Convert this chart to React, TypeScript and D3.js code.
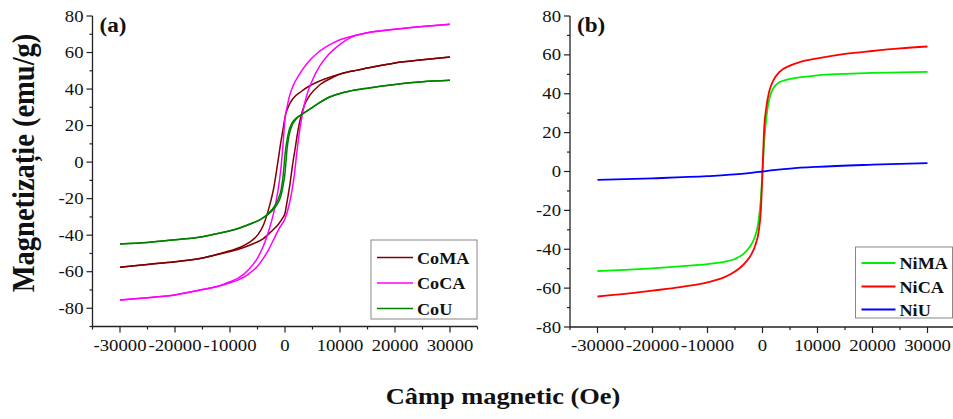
import React from "react";
import * as d3 from "d3";

type Pt = [number, number];

// Field ticks (Oe) and magnetization ticks (emu/g)
const fieldTicks = [-30000, -20000, -10000, 0, 10000, 20000, 30000];
const fieldMinor = [-35000, -25000, -15000, -5000, 5000, 15000, 25000, 35000];
const magTicksA = [-80, -60, -40, -20, 0, 20, 40, 60, 80];
const magMinorA = [-90, -70, -50, -30, -10, 10, 30, 50, 70];
const magTicksB = [-80, -60, -40, -20, 0, 20, 40, 60, 80];
const magMinorB = [-70, -50, -30, -10, 10, 30, 50, 70];

// Panel (a): cobalt samples, hysteresis loops (descending / ascending branches)
const coMADown: Pt[] = [
  [30000, 57.5], [25000, 56], [20000, 54.3], [15000, 51.5], [12000, 49.7], [10000, 48.2],
  [8000, 46.3], [6000, 44], [4500, 41.8], [3000, 38.8], [1500, 35], [700, 31], [200, 27],
  [0, 24.5], [-300, 19], [-700, 12], [-1300, 0], [-2100, -15], [-3000, -26], [-4000, -35],
  [-5000, -40], [-6500, -44], [-8000, -46.5], [-10000, -48.5], [-12000, -50.2],
  [-15000, -52.5], [-20000, -54.5], [-25000, -56], [-30000, -57.5],
];
const coMAUp: Pt[] = [
  [-30000, -57.5], [-25000, -56], [-20000, -54.5], [-15000, -52.5], [-12000, -50.4],
  [-10000, -48.9], [-8000, -47.3], [-6000, -45], [-4000, -42], [-2500, -38], [-1200, -34],
  [-500, -31], [0, -28], [300, -23], [900, -12], [1450, 0], [1800, 6.5], [2400, 18],
  [2900, 25], [3500, 31], [4500, 36.5], [6400, 42.5], [8800, 46.5], [10000, 48.2],
  [12000, 49.7], [15000, 51.5], [20000, 54.3], [25000, 56], [30000, 57.5],
];
const coCADown: Pt[] = [
  [30000, 75.5], [25000, 74.2], [20000, 72.7], [15000, 70.8], [12000, 68.8], [10000, 67],
  [8000, 64], [6000, 60], [4000, 54], [2500, 47.5], [1500, 42], [800, 36], [300, 29],
  [0, 24], [-400, 8], [-800, -5], [-1300, -16], [-2000, -27], [-3000, -38], [-4000, -46.5],
  [-5000, -52.5], [-6500, -58.5], [-8500, -63.5], [-10000, -65.5], [-12000, -67.8],
  [-15000, -69.8], [-20000, -72.7], [-25000, -74.2], [-30000, -75.5],
];
const coCAUp: Pt[] = [
  [-30000, -75.5], [-25000, -74.2], [-20000, -72.7], [-15000, -69.8], [-12000, -67.8],
  [-10000, -66], [-8500, -64.5], [-6500, -61], [-5000, -57], [-4000, -53], [-3000, -48],
  [-2000, -42], [-1000, -36], [0, -31], [700, -24], [1300, -15], [1700, -7], [2100, 4],
  [2600, 16], [3200, 27], [4000, 37], [5000, 45], [6300, 52.5], [7800, 58.5], [9000, 62],
  [10000, 64.5], [12000, 68.3], [15000, 70.8], [20000, 72.7], [25000, 74.2], [30000, 75.5],
];
const coUDown: Pt[] = [
  [30000, 44.8], [25000, 44], [20000, 42.5], [15000, 40.5], [12000, 39], [10000, 37.6],
  [8000, 35.5], [6000, 32], [4500, 29], [3000, 26], [2000, 24], [1200, 21], [700, 17],
  [300, 11], [0, 4], [-200, -3], [-400, -9], [-700, -15], [-1200, -20], [-2000, -24.5],
  [-3000, -28], [-4500, -31.5], [-6000, -33.5], [-8000, -35.8], [-10000, -37.6],
  [-12000, -39], [-15000, -40.8], [-20000, -42.5], [-25000, -44], [-30000, -44.8],
];
const coUUp: Pt[] = [
  [-30000, -44.8], [-25000, -44], [-20000, -42.5], [-15000, -40.8], [-12000, -39],
  [-10000, -37.6], [-8000, -35.8], [-6000, -33.5], [-4500, -31.5], [-3000, -28.5],
  [-2000, -25.5], [-1200, -22], [-700, -18], [-300, -12], [0, -6], [200, 1], [400, 8],
  [700, 14], [1200, 19.5], [2000, 23.5], [3000, 26], [4500, 29], [6000, 32], [8000, 35.5],
  [10000, 37.6], [12000, 39], [15000, 40.5], [20000, 42.5], [25000, 44], [30000, 44.8],
];

// Panel (b): nickel samples, single magnetization curves
const niMA: Pt[] = [
  [-30000, -51.2], [-25000, -50.6], [-20000, -49.8], [-15000, -48.8], [-10000, -47.6],
  [-7000, -46.5], [-5000, -45], [-3500, -42.5], [-2500, -39.5], [-1500, -34.5], [-800, -27],
  [-300, -14], [0, 0], [300, 15], [800, 30], [1300, 38], [2000, 43], [3000, 45.8],
  [4500, 47.3], [7000, 48.5], [10000, 49.5], [15000, 50.2], [20000, 50.7], [25000, 51],
  [30000, 51.3],
];
const niCA: Pt[] = [
  [-30000, -64.3], [-25000, -63], [-20000, -61.3], [-15000, -59.5], [-10000, -57],
  [-7000, -54.5], [-5000, -51.5], [-3000, -46.5], [-2000, -42.5], [-1200, -37], [-700, -31],
  [-300, -20], [0, 0], [300, 22], [700, 33], [1200, 41], [2000, 47], [3000, 51],
  [5000, 54.5], [7000, 56.5], [10000, 58.2], [15000, 60.5], [20000, 62], [25000, 63.3],
  [30000, 64.3],
];
const niU: Pt[] = [
  [-30000, -4.3], [-20000, -3.5], [-10000, -2.4], [-5000, -1.5], [-2000, -0.7], [0, 0],
  [2000, 0.7], [5000, 1.5], [10000, 2.4], [20000, 3.5], [30000, 4.3],
];

const seriesA = [
  { name: "CoMA", color: "#800000", branches: [coMADown, coMAUp] },
  { name: "CoCA", color: "#ff00ff", branches: [coCADown, coCAUp] },
  { name: "CoU", color: "#008000", branches: [coUDown, coUUp] },
];
const seriesB = [
  { name: "NiMA", color: "#00ee00", branches: [niMA] },
  { name: "NiCA", color: "#ff0000", branches: [niCA] },
  { name: "NiU", color: "#0000ff", branches: [niU] },
];

const SERIF = "'Liberation Serif', 'Times New Roman', serif";
const SX = 1.1;

function SText(props: {
  x: number; y: number; size: number; anchor?: string; bold?: boolean; children: React.ReactNode; rotate?: number;
}) {
  const { x, y, size, anchor = "start", bold = false, children, rotate = 0 } = props;
  return (
    <text
      transform={`translate(${x},${y}) scale(${SX},1)${rotate ? ` rotate(${rotate})` : ""}`}
      fontFamily={SERIF}
      fontSize={size}
      fontWeight={bold ? "bold" : "normal"}
      textAnchor={anchor}
      fill="#111"
    >
      {children}
    </text>
  );
}

type Panel = {
  xRange: [number, number];
  yDomain: [number, number];
  yRange: [number, number];
  yTicks: number[];
  yMinor: number[];
  series: { name: string; color: string; branches: Pt[][] }[];
  label: string;
  legend: { x: number; y: number; w: number; h: number; rowY: number[]; lineW: number };
  strokeW: number;
};

function PanelChart({ p }: { p: Panel }) {
  const x = d3.scaleLinear().domain([-35000, 35000]).range(p.xRange);
  const y = d3.scaleLinear().domain(p.yDomain).range(p.yRange);
  const line = d3
    .line<Pt>()
    .x((d) => x(d[0]))
    .y((d) => y(d[1]))
    .curve(d3.curveMonotoneX);
  const x0 = p.xRange[0];
  const yBottom = p.yRange[0];
  const yTop = p.yRange[1];
  const ax = "#222";
  return (
    <g>
      {p.series.map((s) =>
        s.branches.map((b, i) => (
          <path
            key={s.name + i}
            d={line([...b].sort((u, v) => u[0] - v[0])) || ""}
            fill="none"
            stroke={s.color}
            strokeWidth={p.strokeW}
          />
        ))
      )}
      {/* y axis */}
      <line x1={x0} x2={x0} y1={yTop} y2={yBottom} stroke={ax} strokeWidth={1.3} />
      {p.yTicks.map((t) => (
        <g key={"yt" + t}>
          <line x1={x0 - 6} x2={x0} y1={y(t)} y2={y(t)} stroke={ax} strokeWidth={1.2} />
          <SText x={x0 - 9} y={y(t) + 5.5} size={17} anchor="end">
            {t}
          </SText>
        </g>
      ))}
      {p.yMinor.map((t) => (
        <line key={"ym" + t} x1={x0 - 3} x2={x0} y1={y(t)} y2={y(t)} stroke={ax} strokeWidth={1.2} />
      ))}
      {/* x axis */}
      <line x1={x0} x2={p.xRange[1]} y1={yBottom} y2={yBottom} stroke={ax} strokeWidth={1.3} />
      {fieldTicks.map((t) => (
        <g key={"xt" + t}>
          <line x1={x(t)} x2={x(t)} y1={yBottom} y2={yBottom + 6} stroke={ax} strokeWidth={1.2} />
          <SText x={x(t)} y={yBottom + 24} size={17} anchor="middle">
            {t}
          </SText>
        </g>
      ))}
      {fieldMinor.map((t) => (
        <line key={"xm" + t} x1={x(t)} x2={x(t)} y1={yBottom} y2={yBottom + 3} stroke={ax} strokeWidth={1.2} />
      ))}
      {/* panel label */}
      <SText x={x0 + 7} y={yTop + 16} size={21} bold>
        {p.label}
      </SText>
      {/* legend */}
      <rect
        x={p.legend.x}
        y={p.legend.y}
        width={p.legend.w}
        height={p.legend.h}
        fill="#fff"
        stroke="#888"
        strokeWidth={1}
      />
      {p.series.map((s, i) => (
        <g key={"lg" + s.name}>
          <line
            x1={p.legend.x + 6}
            x2={p.legend.x + 6 + p.legend.lineW}
            y1={p.legend.rowY[i]}
            y2={p.legend.rowY[i]}
            stroke={s.color}
            strokeWidth={p.strokeW}
          />
          <SText x={p.legend.x + 10 + p.legend.lineW} y={p.legend.rowY[i] + 6} size={16.5} bold>
            {s.name}
          </SText>
        </g>
      ))}
    </g>
  );
}

export default function App() {
  const panelA: Panel = {
    xRange: [92.5, 477.5],
    yDomain: [-90, 80],
    yRange: [326.5, 16],
    yTicks: magTicksA,
    yMinor: magMinorA,
    series: seriesA,
    label: "(a)",
    legend: { x: 371, y: 240, w: 106, h: 79, rowY: [257.5, 283, 308.5], lineW: 36 },
    strokeW: 1.5,
  };
  const panelB: Panel = {
    xRange: [570, 955],
    yDomain: [-80, 80],
    yRange: [327, 16],
    yTicks: magTicksB,
    yMinor: magMinorB,
    series: seriesB,
    label: "(b)",
    legend: { x: 855.5, y: 247, w: 97, h: 71, rowY: [263, 286.5, 309.5], lineW: 34 },
    strokeW: 1.8,
  };
  return (
    <svg
      width={953}
      height={419}
      style={{ position: "absolute", left: 0, top: 0, background: "#fff" }}
    >
      <rect width={953} height={419} fill="#fff" />
      <PanelChart p={panelA} />
      <PanelChart p={panelB} />
      <text
        transform={`translate(34,163) scale(${SX},1) rotate(-90)`}
        fontFamily={SERIF}
        fontSize={28.5}
        fontWeight="bold"
        textAnchor="middle"
        fill="#111"
      >
        Magnetizație (emu/g)
      </text>
      <SText x={503} y={404} size={24} anchor="middle" bold>
        Câmp magnetic (Oe)
      </SText>
    </svg>
  );
}
